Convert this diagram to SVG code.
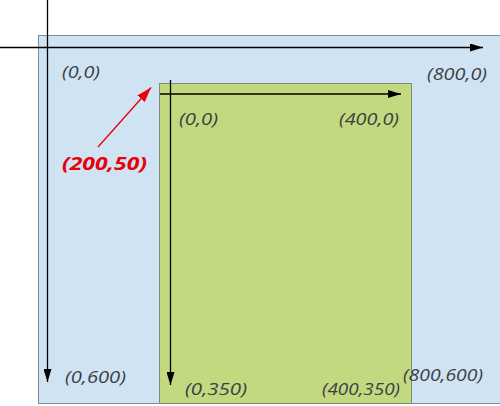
<svg xmlns="http://www.w3.org/2000/svg" width="500" height="406" viewBox="0 0 500 406">
<defs>
<marker id="ab" viewBox="0 0 13 8" refX="13" refY="4" markerWidth="13" markerHeight="8" markerUnits="userSpaceOnUse" orient="auto"><path d="M0,0 L13,4 L0,8 z" fill="#000"/></marker>
<marker id="ar" viewBox="0 0 15 10" refX="15" refY="5" markerWidth="15" markerHeight="10" markerUnits="userSpaceOnUse" orient="auto"><path d="M0,0 L15,5 L0,10 z" fill="#e8000b"/></marker>
<style>
.lbl{font-family:"Open Sans","DejaVu Sans",sans-serif;font-style:italic;font-size:17px;fill:#3a3f45}
.red{font-family:"Open Sans","DejaVu Sans",sans-serif;font-style:italic;font-weight:bold;font-size:18.5px;fill:#e8000b}
.ax{stroke:#000;stroke-width:1.3;fill:none}
</style>
</defs>
<g id="outer">
<rect x="38.5" y="35.5" width="470" height="368" fill="#cfe3f3" stroke="#7f8b96" stroke-width="1"/>
</g>
<g id="inner">
<rect x="159.5" y="83.5" width="252" height="320" fill="#c3d97f" stroke="#7f8b76" stroke-width="1"/>
<text class="lbl" x="179" y="125" textLength="39" lengthAdjust="spacingAndGlyphs">(0,0)</text>
<text class="lbl" x="339" y="125" textLength="60" lengthAdjust="spacingAndGlyphs">(400,0)</text>
<text class="lbl" x="185" y="395" textLength="62" lengthAdjust="spacingAndGlyphs">(0,350)</text>
<text class="lbl" x="322" y="395" textLength="78" lengthAdjust="spacingAndGlyphs">(400,350)</text>
</g>
<g id="outer-labels">
<text class="lbl" x="62" y="78" textLength="38" lengthAdjust="spacingAndGlyphs">(0,0)</text>
<text class="lbl" x="427" y="80" textLength="60" lengthAdjust="spacingAndGlyphs">(800,0)</text>
<text class="lbl" x="65" y="383" textLength="61" lengthAdjust="spacingAndGlyphs">(0,600)</text>
<text class="lbl" x="403" y="381" textLength="80" lengthAdjust="spacingAndGlyphs">(800,600)</text>
</g>
<g id="connectors">
<line class="ax" x1="0" y1="47.5" x2="483" y2="47.5" marker-end="url(#ab)"/>
<line class="ax" x1="47.5" y1="0" x2="47.5" y2="382" marker-end="url(#ab)"/>
<line class="ax" x1="160" y1="94" x2="401" y2="94" marker-end="url(#ab)"/>
<line class="ax" x1="170.5" y1="80" x2="170.5" y2="385" marker-end="url(#ab)"/>
<line x1="98" y1="147" x2="151" y2="87.5" stroke="#e8000b" stroke-width="1.3" marker-end="url(#ar)"/>
<text class="red" x="62" y="170" textLength="85" lengthAdjust="spacingAndGlyphs">(200,50)</text>
</g>
</svg>
